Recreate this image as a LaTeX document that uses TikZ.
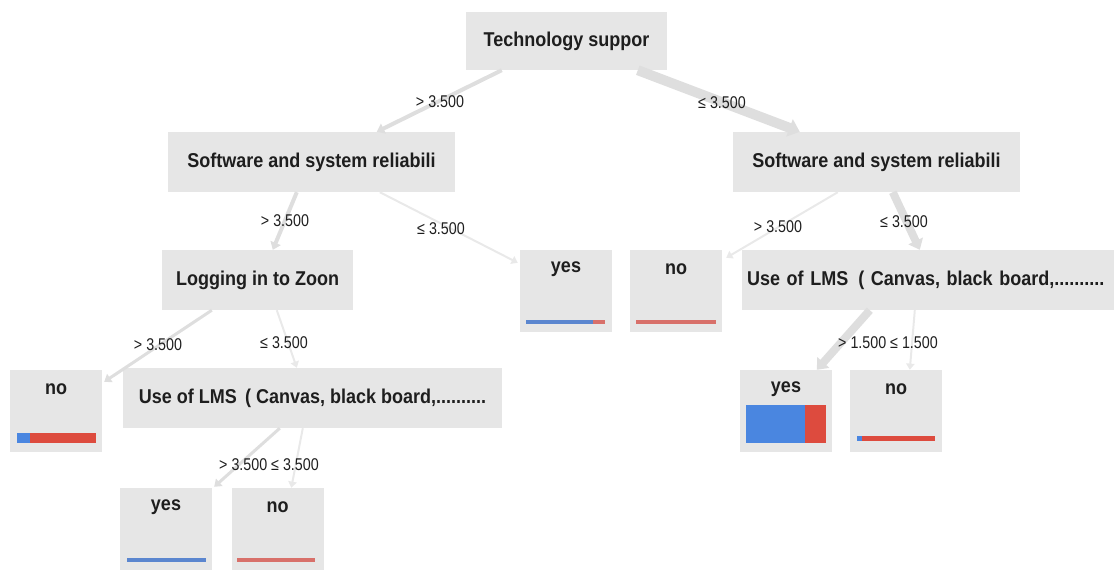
\documentclass[tikz,border=0pt]{standalone}
\usepackage{fontspec}
\setmainfont{Liberation Sans}[FakeStretch=0.9]
\newfontfamily\condfont{Liberation Sans}[FakeStretch=0.84]
\usetikzlibrary{arrows.meta,calc}
\definecolor{boxgray}{HTML}{E6E6E6}
\definecolor{edgegray}{HTML}{DEDEDE}
\definecolor{edgelight}{HTML}{E9E9E9}
\definecolor{txt}{HTML}{1E1E1E}
\definecolor{barblue}{HTML}{4A86E0}
\definecolor{barred}{HTML}{DD4B3E}
\definecolor{thinblue}{HTML}{5B86CF}
\definecolor{thinred}{HTML}{D8706A}
\begin{document}
\begin{tikzpicture}[x=1pt,y=-1pt,
  splitbox/.style={fill=boxgray, inner sep=0pt, text=txt,
    font=\fontsize{20}{23}\selectfont\bfseries},
  leafbox/.style={fill=boxgray, inner sep=0pt, minimum width=92pt, minimum height=82pt},
  leaftext/.style={font=\fontsize{20}{23}\selectfont\bfseries, text=txt, inner sep=0pt,
    anchor=center, yshift=-19pt},
  cond/.style={font=\condfont\fontsize{17}{19}\selectfont, text=txt, inner sep=0pt},
  edge/.style={draw=edgegray, line width=#1,
    -{Triangle[length=5pt 0.6, width=6pt 1.2]}},
  faint/.style={draw=edgelight},
]
\useasboundingbox (0,0) rectangle (1114,572);

% split nodes
\node[splitbox, minimum width=201pt, minimum height=58pt] (root) at (566.5,41) {Technology suppor};
\node[splitbox, minimum width=287pt, minimum height=60pt] (ssrL) at (311.5,162) {Software and system reliabili};
\node[splitbox, minimum width=287pt, minimum height=60pt] (ssrR) at (876.5,162) {Software and system reliabili};
\node[splitbox, minimum width=191pt, minimum height=60pt] (log) at (257.5,280) {Logging in to Zoon};
\node[splitbox, minimum width=379pt, minimum height=60pt] (lmsL) at (312.5,398) {Use of LMS \,( Canvas, black board,..........};
\node[splitbox, minimum width=372pt, minimum height=60pt, text width=362pt, align=left] (lmsR) at (928,280) {Use of LMS \,( Canvas, black board,..........};

% leaves
\node[leafbox, label={[leaftext]north:yes}] (yesM) at (566,291) {};
\node[leafbox, label={[leaftext]north:no}] (noM) at (676,291) {};
\node[leafbox, label={[leaftext]north:no}] (noBL) at (56,411) {};
\node[leafbox, label={[leaftext]north:yes}] (yesBL) at (166,529) {};
\node[leafbox, label={[leaftext]north:no}] (noBLb) at (277.5,529) {};
\node[leafbox, label={[leaftext]north:yes}] (yesR) at (786,411) {};
\node[leafbox, label={[leaftext]north:no}] (noR) at (896,411) {};

% bars
\fill[thinblue] (526,320) rectangle (593,324);
\fill[thinred] (593,320) rectangle (605,324);
\fill[thinred] (636,320) rectangle (716,324);
\fill[barblue] (17,433) rectangle (30,443);
\fill[barred] (30,433) rectangle (96,443);
\fill[thinblue] (127,558) rectangle (206,562);
\fill[thinred] (237,558) rectangle (315,562);
\fill[barblue] (746,405) rectangle (805,443);
\fill[barred] (805,405) rectangle (826,443);
\fill[barblue] (857,436) rectangle (862,441);
\fill[barred] (862,436) rectangle (935,441);

% edges
\draw[edge=4pt] ($(root.south west)+(36,0)$) -- ($(ssrL.north west)+(209,0)$);
\draw[edge=10pt] ($(root.south west)+(172,0)$) -- ($(ssrR.north west)+(67,0)$);
\draw[edge=4pt] ($(ssrL.south west)+(129,0)$) -- ($(log.north west)+(111,0)$);
\draw[edge=2pt, faint] ($(ssrL.south west)+(212,0)$) -- ($(yesM.north west)+(-2,13)$);
\draw[edge=2pt, faint] ($(ssrR.south west)+(105,0)$) -- ($(noM.north east)+(4,8)$);
\draw[edge=8pt] ($(ssrR.south west)+(160,0)$) -- ($(lmsR.north west)+(178,0)$);
\draw[edge=3pt] ($(log.south west)+(50,0)$) -- ($(noBL.north east)+(2,12)$);
\draw[edge=2pt, faint] ($(log.south west)+(115,0)$) -- ($(lmsL.north west)+(174,0)$);
\draw[edge=3pt] ($(lmsL.south west)+(157,0)$) -- ($(yesBL.north east)+(2,-1)$);
\draw[edge=2pt, faint] ($(lmsL.south west)+(180,0)$) -- ($(noBLb.north west)+(60,0)$);
\draw[edge=8pt] ($(lmsR.south west)+(128,0)$) -- ($(yesR.north west)+(77,0)$);
\draw[edge=2pt, faint] ($(lmsR.south west)+(173,0)$) -- ($(noR.north west)+(60,0)$);

% conditions
\node[cond] (c1) at (440,102) {> 3.500};
\node[cond] (c2) at (722,103) {≤ 3.500};
\node[cond] (c3) at (285,221) {> 3.500};
\node[cond] (c4) at (441,229) {≤ 3.500};
\node[cond] (c5) at (778,227) {> 3.500};
\node[cond] (c6) at (904,222) {≤ 3.500};
\node[cond] (c7) at (158,345) {> 3.500};
\node[cond] (c8) at (284,343) {≤ 3.500};
\node[cond] (c9) at (269,465) {> 3.500 ≤ 3.500};
\node[cond] (c10) at (888,343) {> 1.500 ≤ 1.500};
\end{tikzpicture}
\end{document}
